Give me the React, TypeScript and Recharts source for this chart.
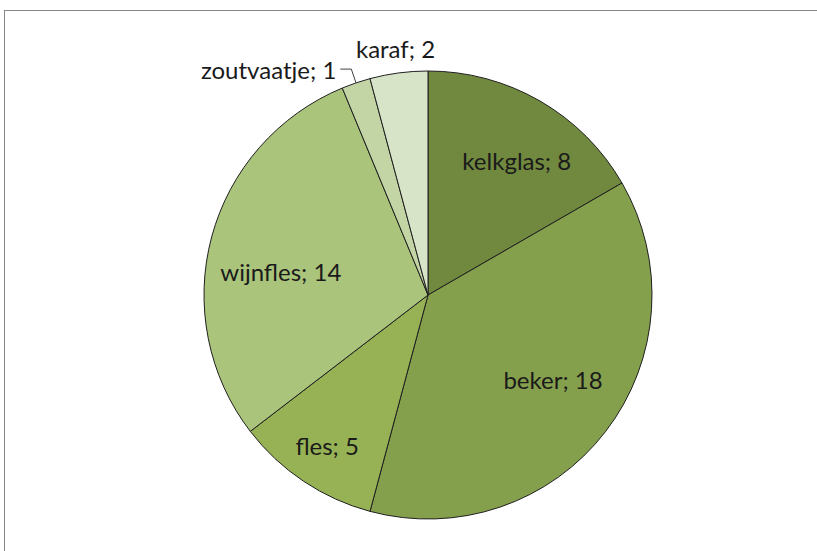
import React from 'react';
import { PieChart, Pie, Cell } from 'recharts';

const categories = ['kelkglas', 'beker', 'fles', 'wijnfles', 'zoutvaatje', 'karaf'];
const counts = [8, 18, 5, 14, 1, 2];
const colors = ['#71893F', '#85A04D', '#97B255', '#AAC47C', '#C3D5A5', '#D8E4C7'];

// label placement: fraction of the radius and small turn off the slice middle (degrees)
const labelRadius = [0.72, 0.675, 0.81, 0.665, 1.06, 1.11];
const labelTurn = [-3.4, 3.3, 0, 6.1, 0, 0];

const data = categories.map((name, i) => ({ name, value: counts[i] }));

const RAD = Math.PI / 180;
const fontFamily = 'Lato, "Open Sans", sans-serif';
const fontSize = 24;

const renderLabel = (props: any) => {
  const { cx, cy, midAngle, outerRadius, index, name, value } = props;
  const text = `${name}; ${value}`;
  const a = midAngle + labelTurn[index];
  const cos = Math.cos(-a * RAD);
  const sin = Math.sin(-a * RAD);

  if (index === 4) {
    // small slice: leader line out to the left
    const sx = cx + outerRadius * cos;
    const sy = cy + outerRadius * sin;
    const ex = cx + outerRadius * 1.065 * cos;
    const ey = cy + outerRadius * 1.065 * sin;
    return (
      <g>
        <polyline points={`${sx},${sy} ${ex},${ey} ${ex - 11},${ey}`} fill="none" stroke="#404040" strokeWidth={1} />
        <text x={ex - 15} y={ey} textAnchor="end" dominantBaseline="central" fill="#1a1a1a" fontSize={fontSize} fontFamily={fontFamily}>
          {text}
        </text>
      </g>
    );
  }

  const r = outerRadius * labelRadius[index];
  const x = cx + r * cos;
  const y = cy + r * sin;
  return (
    <text x={x} y={y} textAnchor="middle" dominantBaseline="central" fill="#1a1a1a" fontSize={fontSize} fontFamily={fontFamily}>
      {text}
    </text>
  );
};

export default function App() {
  return (
    <div style={{ position: 'absolute', left: 0, top: 0, width: 817, height: 551, overflow: 'hidden', background: '#fff' }}>
      <div style={{ position: 'absolute', left: 4, top: 10, width: 830, height: 570, border: '1px solid #868686' }} />
      <PieChart width={817} height={551} margin={{ top: 0, right: 0, bottom: 0, left: 0 }} style={{ position: 'absolute', left: 0, top: 0 }}>
        <Pie
          data={data}
          dataKey="value"
          nameKey="name"
          cx={428}
          cy={295}
          outerRadius={224}
          startAngle={90}
          endAngle={-270}
          stroke="#1f1f1f"
          strokeWidth={1}
          label={renderLabel}
          labelLine={false}
          isAnimationActive={false}
        >
          {data.map((d, i) => (
            <Cell key={d.name} fill={colors[i]} />
          ))}
        </Pie>
      </PieChart>
    </div>
  );
}
